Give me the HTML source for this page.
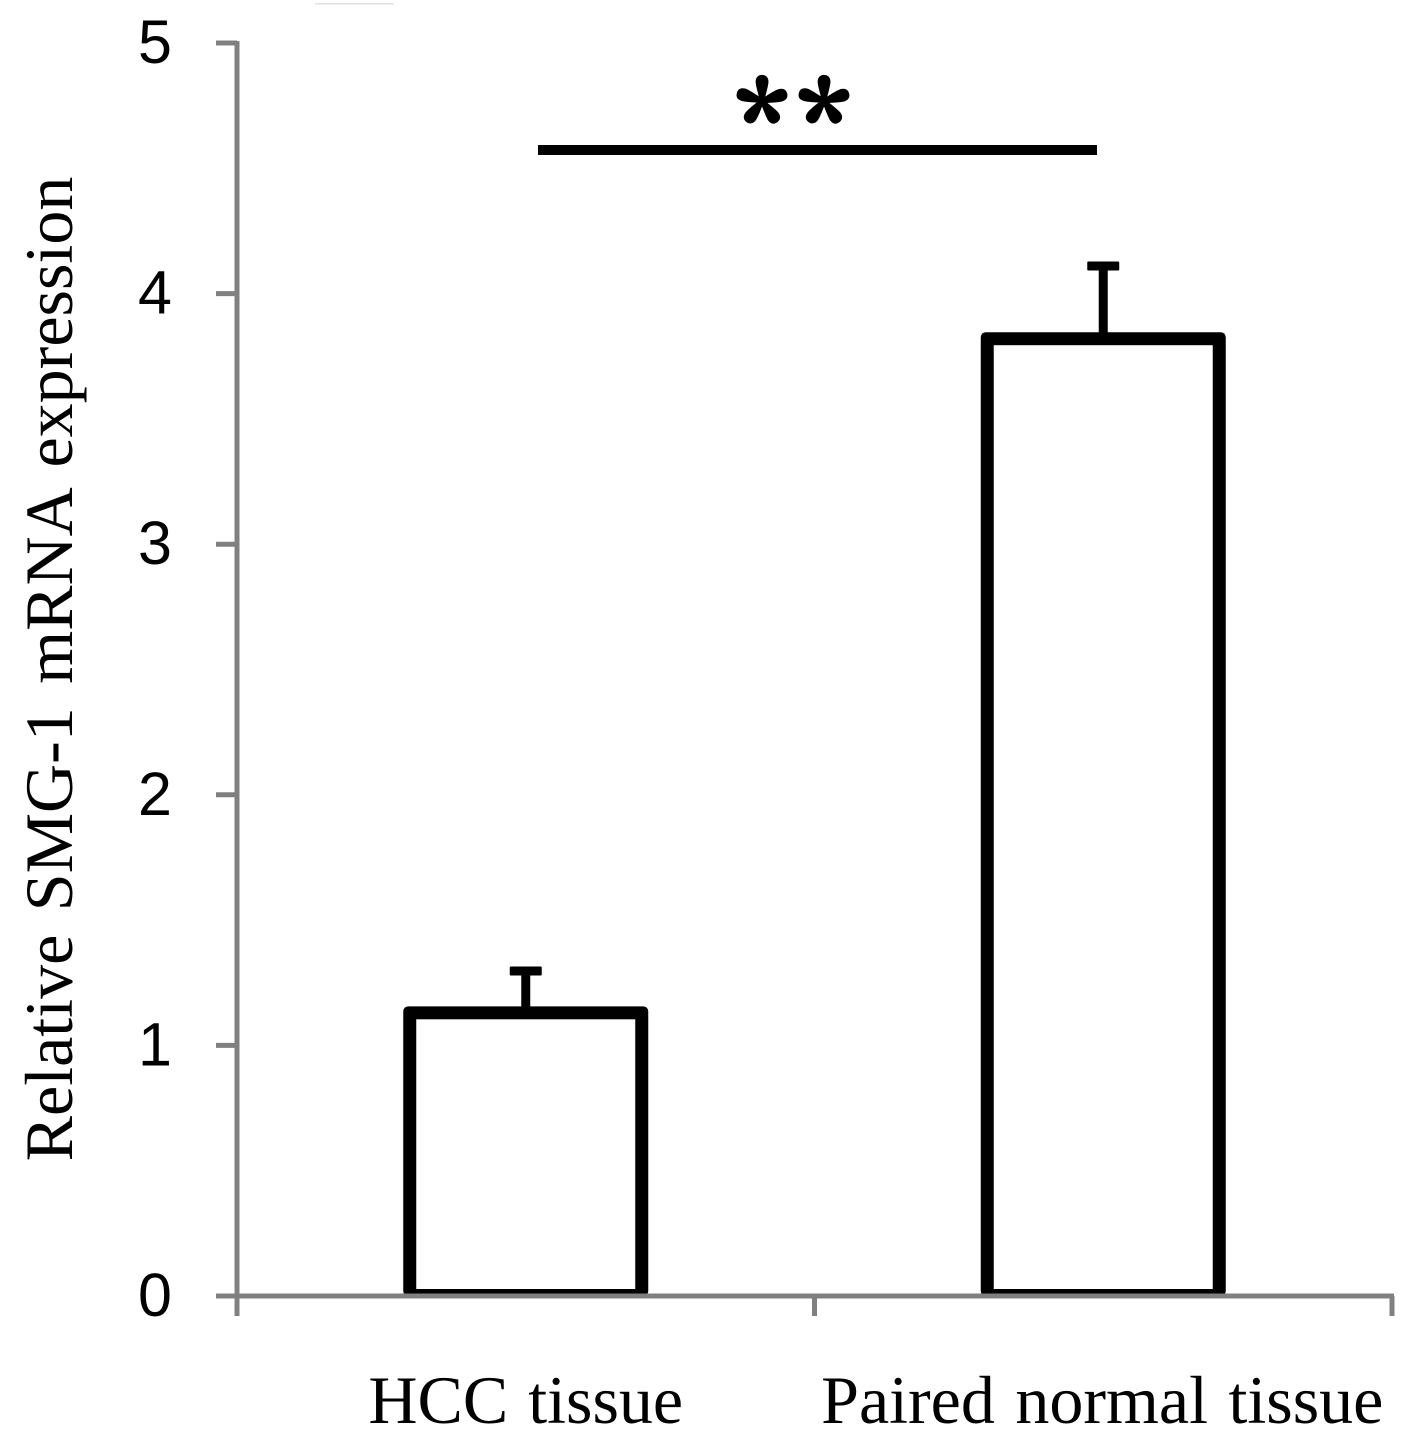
<!DOCTYPE html>
<html lang="en">
<head>
<meta charset="utf-8">
<title>Relative SMG-1 mRNA expression</title>
<style>
html,body{margin:0;padding:0;background:#fff;width:1417px;height:1453px;overflow:hidden}
svg{display:block}
.serif{font-family:"Liberation Serif",serif;fill:#000}
.sans{font-family:"Liberation Sans",sans-serif;fill:#000}
</style>
</head>
<body>
<svg id="chart" xmlns="http://www.w3.org/2000/svg" width="1417" height="1453" viewBox="0 0 1417 1453">
  <rect x="0" y="0" width="1417" height="1453" fill="#fff"/>
  <rect x="315" y="3" width="79" height="1.5" fill="#e2e2e2"/>
  <g id="bars"></g>
  <g id="axes"></g>
  <text class="serif" font-size="68" word-spacing="6.5" text-anchor="middle" transform="translate(72 669) rotate(-90)">Relative SMG-1 mRNA expression</text>
  <rect x="538" y="145" width="559" height="10" fill="#000"/>
  <text font-family="'Noto Serif CJK SC','Liberation Serif',serif" font-weight="bold" font-size="106" text-anchor="middle" x="762 824" y="164" fill="#000" stroke="#000" stroke-width="3" stroke-linejoin="round">**</text>
</svg>
<script>
const categories = ['HCC tissue', 'Paired normal tissue'];
const barValues = [1.13, 3.82];
const errorTops = [1.297, 4.11];
const yTickLabels = [0, 1, 2, 3, 4, 5];

const NS = 'http://www.w3.org/2000/svg';
const plotLeft = 237, plotRight = 1392, plotBottom = 1296, plotTop = 43;
const yMax = 5;
const barOuterWidth = 245, barStroke = 13;
const yScale = v => plotBottom - (v / yMax) * (plotBottom - plotTop);
const bandWidth = (plotRight - plotLeft) / categories.length;
const xBand = i => plotLeft + bandWidth * i;
const xCenter = i => xBand(i) + bandWidth / 2;

function make(tag, attrs, parent) {
  const el = document.createElementNS(NS, tag);
  for (const k in attrs) el.setAttribute(k, attrs[k]);
  parent.appendChild(el);
  return el;
}

const barsG = document.getElementById('bars');
const axesG = document.getElementById('axes');

categories.forEach((name, i) => {
  const cx = xCenter(i);
  const top = yScale(barValues[i]);
  const errTop = yScale(errorTops[i]);

  const stem = make('rect', {x: cx - 4.5, y: errTop, width: 9, height: top - errTop, fill: '#000'}, barsG);
  
  

  const cap = make('rect', {x: cx - 16, y: errTop - 4.5, width: 32, height: 9, rx: 1, fill: '#000'}, barsG);
  
  

  const outer = make('rect', {x: cx - barOuterWidth / 2, y: top - barStroke / 2, width: barOuterWidth, height: plotBottom - top + barStroke / 2, rx: 5, fill: '#000'}, barsG);
  
  

  const inner = make('rect', {x: cx - barOuterWidth / 2 + barStroke, y: top + barStroke / 2, width: barOuterWidth - 2 * barStroke, height: plotBottom - 7 - top - barStroke / 2, fill: '#fff'}, barsG);
  
  

  const label = make('text', {class: 'serif', 'font-size': 68, 'word-spacing': i === 0 ? 3 : 3.5, 'text-anchor': 'middle', x: cx - i, y: 1423}, axesG);
  
  
  label.textContent = name;
});

const yAxis = make('line', {x1: plotLeft, x2: plotLeft, y1: plotTop - 2, y2: plotBottom + 20, stroke: '#808080', 'stroke-width': 5}, axesG);



const xAxis = make('line', {x1: 216, x2: plotRight + 2, y1: plotBottom, y2: plotBottom, stroke: '#808080', 'stroke-width': 5}, axesG);



yTickLabels.forEach(v => {
  const y = yScale(v);
  const tick = make('line', {x1: 216, x2: plotLeft, y1: y, y2: y, stroke: '#808080', 'stroke-width': 5}, axesG);
  
  

  const label = make('text', {class: 'sans', 'font-size': 61, 'text-anchor': 'middle', x: 155, y: y + 20}, axesG);
  
  
  label.textContent = v;
});

for (let i = 1; i <= categories.length; i++) {
  const x = xBand(i);
  const tick = make('line', {x1: x, x2: x, y1: plotBottom, y2: plotBottom + 20, stroke: '#808080', 'stroke-width': 5}, axesG);
  
  
}
</script>
</body>
</html>
